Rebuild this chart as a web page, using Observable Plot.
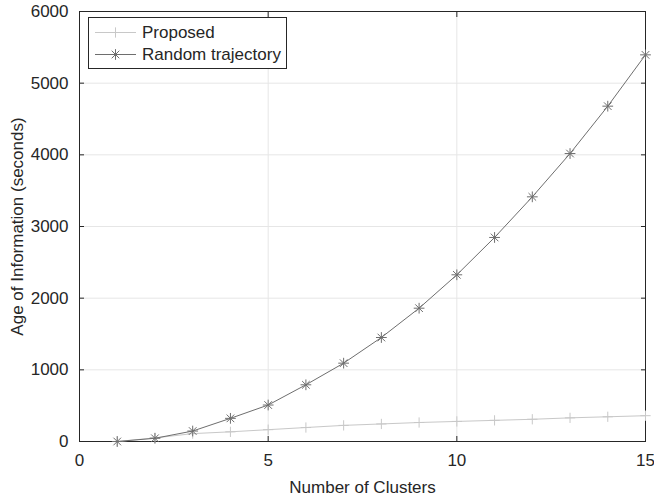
<!DOCTYPE html>
<html><head><meta charset="utf-8">
<script src="https://cdn.jsdelivr.net/npm/d3@7"></script>
<script src="https://cdn.jsdelivr.net/npm/@observablehq/plot@0.6"></script>
<style>body{margin:0;background:#fff} svg{display:block}</style>
</head><body><div id="chart"></div>
<script>
const clusters = [1,2,3,4,5,6,7,8,9,10,11,12,13,14,15];
const proposed = [0,50,110,135,165,195,225,245,265,280,295,310,330,345,360];
const randomTrajectory = [0,45,146,323,509,791,1093,1451,1860,2326,2847,3414,4018,4679,5395];
const xTicks = [0,5,10,15];
const yTicks = [0,1000,2000,3000,4000,5000,6000];
const seriesNames = ["Proposed","Random trajectory"];
const xLabel = "Number of Clusters";
const yLabel = "Age of Information (seconds)";

const ink = "#262626";
const proposedColor = "#c8c8c8";
const randomColor = "#6e6e6e";
const gridColor = "#e6e6e6";
const font = "'Liberation Sans', Arial, Helvetica, sans-serif";
const fs = 17;
const noText = () => "";
const markR = 3.55;
const propR = 3.4;

const plot = Plot.plot({
  width: 654, height: 499,
  marginLeft: 79, marginRight: 9, marginTop: 11, marginBottom: 58,
  style: {fontFamily: font, fontSize: fs + "px", color: ink, background: "#fff"},
  x: {domain: [0, 15]},
  y: {domain: [0, 6000]},
  marks: [
    Plot.gridX({ticks: xTicks, stroke: gridColor, strokeOpacity: 1}),
    Plot.gridY({ticks: yTicks, stroke: gridColor, strokeOpacity: 1}),
    Plot.axisX({ticks: xTicks, anchor: "bottom", tickSize: 0, tickPadding: 12, label: null, fontSize: fs, tickFormat: d => String(d)}),
    Plot.axisX({ticks: xTicks, anchor: "bottom", tickSize: 5, dy: -5, tickFormat: noText, label: null, stroke: ink}),
    Plot.axisX({ticks: xTicks, anchor: "top", tickSize: 5, dy: 5, tickFormat: noText, label: null, stroke: ink}),
    Plot.axisY({ticks: yTicks, anchor: "left", tickSize: 0, tickPadding: 11, label: null, fontSize: fs, tickFormat: d => String(d)}),
    Plot.axisY({ticks: yTicks, anchor: "left", tickSize: 5, dx: 5, tickFormat: noText, label: null, stroke: ink}),
    Plot.axisY({ticks: yTicks, anchor: "right", tickSize: 5, dx: -5, tickFormat: noText, label: null, stroke: ink}),
    Plot.frame({stroke: ink}),
    Plot.line(clusters, {x: d => d, y: (d, i) => proposed[i], stroke: proposedColor, strokeWidth: 1}),
    Plot.dot(clusters, {x: d => d, y: (d, i) => proposed[i], symbol: "plus", r: propR, stroke: proposedColor, strokeWidth: 1}),
    Plot.line(clusters, {x: d => d, y: (d, i) => randomTrajectory[i], stroke: randomColor, strokeWidth: 1}),
    Plot.dot(clusters, {x: d => d, y: (d, i) => randomTrajectory[i], symbol: "plus", r: markR, stroke: randomColor, strokeWidth: 1}),
    Plot.dot(clusters, {x: d => d, y: (d, i) => randomTrajectory[i], symbol: "times", r: markR, stroke: randomColor, strokeWidth: 1}),
    Plot.text([xLabel], {frameAnchor: "bottom", dy: 46, text: d => d, fontSize: fs, fill: ink, textAnchor: "middle", lineAnchor: "middle"}),
    Plot.text([yLabel], {frameAnchor: "left", dx: -62, rotate: -90, text: d => d, fontSize: fs, fill: ink, textAnchor: "middle", lineAnchor: "middle"})
  ]
});
document.getElementById("chart").appendChild(plot);

// Legend (inside plot, top-left)
const svg = d3.select(plot);
const lg = svg.append("g").attr("font-family", font).attr("font-size", fs).attr("text-anchor", "start");
lg.append("rect").attr("x", 88.5).attr("y", 17.5).attr("width", 198).attr("height", 51)
  .attr("fill", "#fff").attr("stroke", ink).attr("stroke-width", 1);
const entries = [
  {name: seriesNames[0], color: proposedColor, symbols: [[d3.symbolPlus, propR]]},
  {name: seriesNames[1], color: randomColor, symbols: [[d3.symbolPlus, markR], [d3.symbolTimes, markR]]}
];
entries.forEach((e, i) => {
  const y = 32.5 + i * 22;
  lg.append("line").attr("x1", 95).attr("x2", 136).attr("y1", y).attr("y2", y)
    .attr("stroke", e.color).attr("stroke-width", 1);
  e.symbols.forEach(([sym, r]) => {
    lg.append("path").attr("d", d3.symbol(sym, r * r * Math.PI)())
      .attr("transform", `translate(115.5,${y})`).attr("fill", "none")
      .attr("stroke", e.color).attr("stroke-width", 1);
  });
  lg.append("text").attr("x", 142).attr("y", y).attr("dy", "0.35em").attr("fill", ink).attr("text-anchor", "start").text(e.name);
});
</script>
</body></html>
